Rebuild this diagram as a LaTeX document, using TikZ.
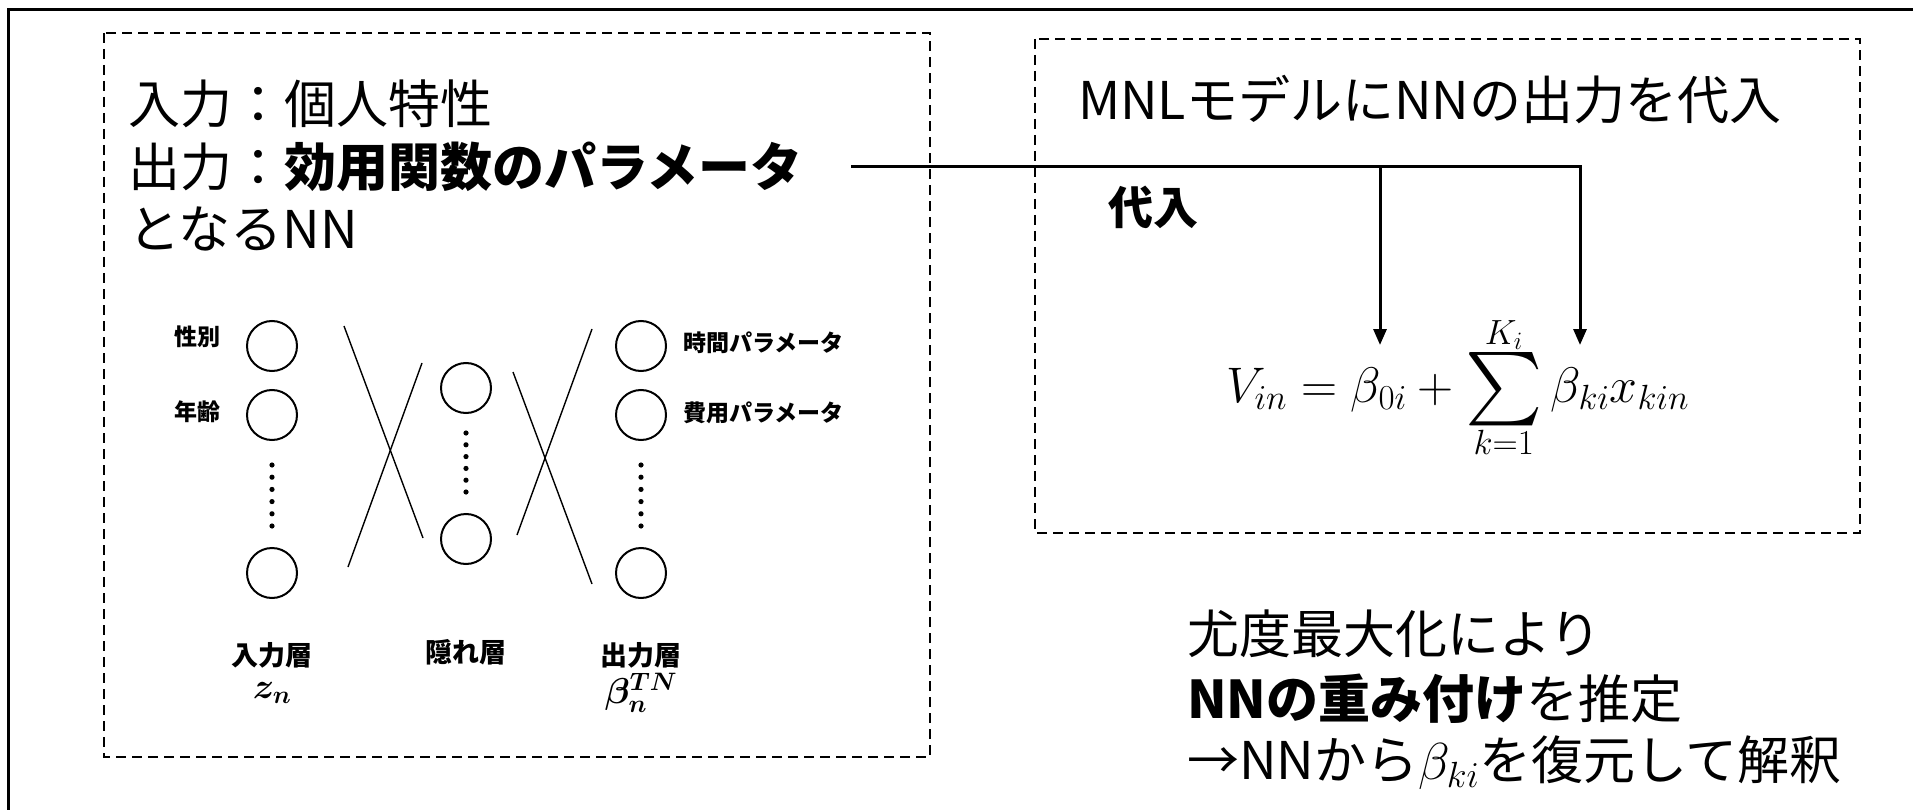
\RequirePackage{fix-cm}
\documentclass[tikz,border=0pt]{standalone}
\usepackage{amsmath}
\usepackage{bm}
\usepackage{graphicx}
\usepackage{fontspec}
\setmainfont{Noto Sans CJK JP}
\usetikzlibrary{arrows.meta}
\newcommand{\bigsumop}{\mathop{\vcenter{\hbox{\scalebox{2.95}{$\textstyle\sum$}}}}\limits}
\begin{document}
\begin{tikzpicture}[x=1pt,y=-1pt,
  every node/.style={inner sep=0pt, outer sep=0pt},
  dbox/.style={draw, line width=2pt, dash pattern=on 10pt off 6pt},
  neuron/.style={draw, circle, line width=2pt, minimum size=50pt},
  conn/.style={line width=1.4pt},
  arr/.style={line width=3pt, line join=miter, -{Triangle[length=16pt,width=13pt]}},
  big/.style={font=\fontsize{52}{60}\selectfont},
  sub/.style={font=\fontsize{45}{50}\selectfont\bfseries},
  small/.style={font=\fontsize{23}{26}\selectfont\bfseries},
  layer/.style={font=\fontsize{27}{30}\selectfont\bfseries},
  mathlbl/.style={font=\fontsize{36}{40}\selectfont},
  formula/.style={font=\fontsize{50}{58}\selectfont}
]
\useasboundingbox (0,0) rectangle (1913,810);
\begin{scope}
\clip (0,0) rectangle (1913,810);
\draw[line width=3pt] (8,10) rectangle (1950,850);
\end{scope}

% dashed boxes
\draw[dbox] (104,33) rectangle (930,757);
\draw[dbox] (1035,39) rectangle (1860,533);

% top-left text
\node[big, anchor=west] (t1) at (128,104) {入力：個人特性};
\node[big, anchor=west] (t2) at (128,167) {出力：\textbf{効用関数のパラメータ}};
\node[big, anchor=west] (t3) at (128,229) {となるNN};

% right box text
\node[big, anchor=west] (mnl) at (1078,100) {MNLモデルにNNの出力を代入};
\node[sub, anchor=west] (dainyu) at (1108,207) {代入};

% formula
\node[formula, anchor=base west] (f) at (1226,402)
  {$\displaystyle V_{in} = \beta_{0i} + \bigsumop_{k=1}^{K_i} \beta_{ki} x_{kin}$};

% connectors
\coordinate (ls) at ([xshift=49pt]t2.east);
\coordinate (tip1) at (1380,345);
\coordinate (tip2) at (1580,345);
\draw[arr] (ls) -| (tip2);
\draw[arr] (ls -| tip1) -- (tip1);

% neural network
\node[neuron] (i1) at (272,346) {};
\node[neuron] (i2) at (272,415) {};
\node[neuron] (i3) at (272,573) {};
\node[neuron] (h1) at (466,388) {};
\node[neuron] (h2) at (466,539) {};
\node[neuron] (o1) at (641,346) {};
\node[neuron] (o2) at (641,415) {};
\node[neuron] (o3) at (641,573) {};
\foreach \k in {0,...,5} {
  \fill (272,465+12.2*\k) circle (2.6pt);
  \fill (641,465+12.2*\k) circle (2.6pt);
  \fill (466,433+11.8*\k) circle (2.6pt);
}
\draw[conn] (344,326) -- (423,538);
\draw[conn] (348,567) -- (422,363);
\draw[conn] (513,372) -- (592,584);
\draw[conn] (517,535) -- (592,329);

\node[small] (sex) at (197,337) {性別};
\node[small] (age) at (197,412) {年齢};
\node[small, anchor=west] (tp) at (683,343) {時間パラメータ};
\node[small, anchor=west] (cp) at (683,413) {費用パラメータ};

\node[layer] (li) at (272,655) {入力層};
\node[layer] (lh) at (466,652) {隠れ層};
\node[layer] (lo) at (641,655) {出力層};
\node[mathlbl] (zn) at (272,693) {$\bm{z_n}$};
\node[mathlbl] (bn) at (641,693) {$\bm{\beta_n^{TN}}$};

% bottom-right text
\node[big, anchor=west] (b1) at (1187,634) {尤度最大化により};
\node[big, anchor=west] (b2) at (1187,699) {\textbf{NNの重み付け}を推定};
\node[big, anchor=west] (b3) at (1187,763) {→NNから$\beta_{ki}$を復元して解釈};
\end{tikzpicture}
\end{document}
